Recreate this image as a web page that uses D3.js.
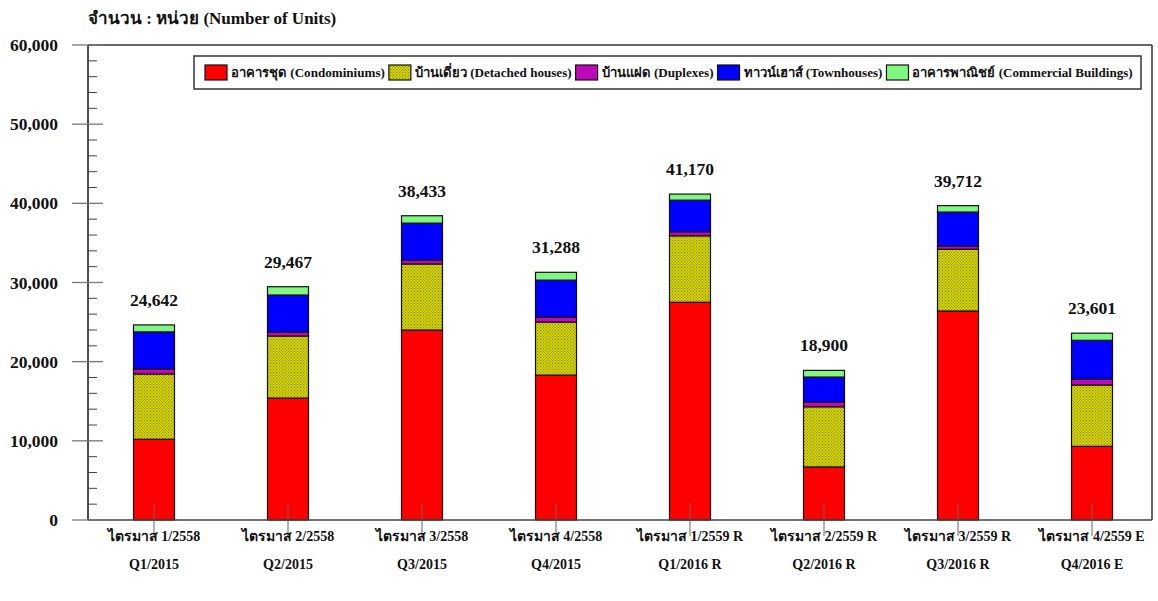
<!DOCTYPE html>
<html><head><meta charset="utf-8">
<script src="https://cdn.jsdelivr.net/npm/d3@7"></script>
<style>
body{margin:0;background:#fff;}
svg text{font-family:"Liberation Serif","Times New Roman",serif;font-weight:bold;fill:#111;}
</style></head>
<body><svg id="chart" width="1158" height="601"></svg>
<script>
const categoriesTh = ["ไตรมาส 1/2558","ไตรมาส 2/2558","ไตรมาส 3/2558","ไตรมาส 4/2558","ไตรมาส 1/2559 R","ไตรมาส 2/2559 R","ไตรมาส 3/2559 R","ไตรมาส 4/2559 E"];
const categoriesEn = ["Q1/2015","Q2/2015","Q3/2015","Q4/2015","Q1/2016 R","Q2/2016 R","Q3/2016 R","Q4/2016 E"];
const seriesNames = ["อาคารชุด (Condominiums)","บ้านเดี่ยว (Detached houses)","บ้านแฝด (Duplexes)","ทาวน์เฮาส์ (Townhouses)","อาคารพาณิชย์ (Commercial Buildings)"];
const condominiums = [10200,15400,24000,18300,27500,6700,26400,9300];
const detached     = [8250,7840,8340,6700,8400,7600,7800,7750];
const duplexes     = [630,510,500,640,500,600,400,750];
const townhouses   = [4680,4670,4660,4660,4000,3160,4300,4900];
const commercial   = [882,1047,933,988,770,840,812,901];
const totals       = [24642,29467,38433,31288,41170,18900,39712,23601];
const yTicks = [0,10000,20000,30000,40000,50000,60000];

const svg = d3.select("#chart");
const defs = svg.append("defs");
function dotPattern(id, base){
  const p = defs.append("pattern").attr("id",id).attr("patternUnits","userSpaceOnUse").attr("width",3).attr("height",3);
  p.append("rect").attr("width",3).attr("height",3).attr("fill",base);
  p.append("rect").attr("x",0).attr("y",0).attr("width",1).attr("height",1).attr("fill","#3a3a00").attr("opacity",0.55);
  p.append("rect").attr("x",1.5).attr("y",1.5).attr("width",1).attr("height",1).attr("fill","#3a3a00").attr("opacity",0.45);
}
dotPattern("olive","#d2d200");
dotPattern("mag","#d000d0");
const fills = ["#ff0000","url(#olive)","url(#mag)","#0000ff","#80f880"];

const L = 88, R = 1152, T = 45, B = 520;
const x = d3.scaleBand().domain(categoriesEn).range([87,1159]).paddingInner(0).paddingOuter(0);
const y = d3.scaleLinear().domain([0,60000]).range([B,T]);
const bw = 41;

// title
svg.append("text").attr("x",88).attr("y",24).attr("font-size",17).text("จำนวน : หน่วย (Number of Units)");

// frame
svg.append("line").attr("x1",L).attr("x2",R).attr("y1",T).attr("y2",T).attr("stroke","#333").attr("stroke-width",1.5);
svg.append("line").attr("x1",R).attr("x2",R).attr("y1",T).attr("y2",B).attr("stroke","#333").attr("stroke-width",1.5);

// stacked data
const series = [condominiums,detached,duplexes,townhouses,commercial];
const rows = categoriesEn.map((c,i)=>{const o={cat:c}; series.forEach((s,k)=>o["s"+k]=s[i]); return o;});
const stack = d3.stack().keys(series.map((s,k)=>"s"+k))(rows);

const g = svg.append("g");
stack.forEach((layer,k)=>{
  g.selectAll(null).data(layer).enter().append("rect")
    .attr("x",d=>x(d.data.cat)+x.bandwidth()/2-bw/2)
    .attr("y",d=>y(d[1]))
    .attr("width",bw)
    .attr("height",d=>y(d[0])-y(d[1]))
    .attr("fill",fills[k])
    .attr("stroke","#111").attr("stroke-width",1.2);
});

// x tick marks
svg.selectAll(null).data(categoriesEn).enter().append("line")
  .attr("x1",d=>x(d)+x.bandwidth()/2).attr("x2",d=>x(d)+x.bandwidth()/2)
  .attr("y1",503).attr("y2",536).attr("stroke","#666").attr("stroke-width",1);

// axes lines
svg.append("line").attr("x1",L).attr("x2",R).attr("y1",B).attr("y2",B).attr("stroke","#444").attr("stroke-width",1.5);
svg.append("line").attr("x1",L).attr("x2",L).attr("y1",T).attr("y2",B).attr("stroke","#111").attr("stroke-width",1.5);

// y ticks
const minor = d3.range(0,60001,2000).filter(v=>v%10000!==0);
svg.selectAll(null).data(minor).enter().append("line")
  .attr("x1",L).attr("x2",L+9).attr("y1",d=>y(d)).attr("y2",d=>y(d)).attr("stroke","#444").attr("stroke-width",1);
svg.selectAll(null).data(yTicks).enter().append("line")
  .attr("x1",L-16).attr("x2",L+15).attr("y1",d=>y(d)).attr("y2",d=>y(d)).attr("stroke","#777").attr("stroke-width",1.3);
svg.selectAll(null).data(yTicks).enter().append("text")
  .attr("x",58).attr("y",d=>y(d)+6).attr("text-anchor","end").attr("font-size",17.5)
  .text(d=>d3.format(",")(d));

// x labels
svg.selectAll(null).data(categoriesEn).enter().append("text")
  .attr("x",d=>x(d)+x.bandwidth()/2).attr("y",541).attr("text-anchor","middle").attr("font-size",14)
  .text((d,i)=>categoriesTh[i]);
svg.selectAll(null).data(categoriesEn).enter().append("text")
  .attr("x",d=>x(d)+x.bandwidth()/2).attr("y",569).attr("text-anchor","middle").attr("font-size",14)
  .text(d=>d);

// totals
svg.selectAll(null).data(categoriesEn).enter().append("text")
  .attr("x",d=>x(d)+x.bandwidth()/2).attr("y",(d,i)=>y(totals[i])-19).attr("text-anchor","middle").attr("font-size",17.5)
  .text((d,i)=>d3.format(",")(totals[i]));

// legend
const lg = svg.append("g");
lg.append("rect").attr("x",194).attr("y",56).attr("width",947).attr("height",33)
  .attr("fill","#fff").attr("stroke","#333").attr("stroke-width",1.5);
let cx = 205;
seriesNames.forEach((n,k)=>{
  lg.append("rect").attr("x",cx).attr("y",65).attr("width",22).attr("height",15).attr("fill",fills[k]).attr("stroke","#111").attr("stroke-width",1.2);
  const t = lg.append("text").attr("x",cx+26).attr("y",77).attr("font-size",13.1).text(n);
  const w = t.node().getComputedTextLength();
  cx += 26 + w + 4;
});
</script></body></html>
